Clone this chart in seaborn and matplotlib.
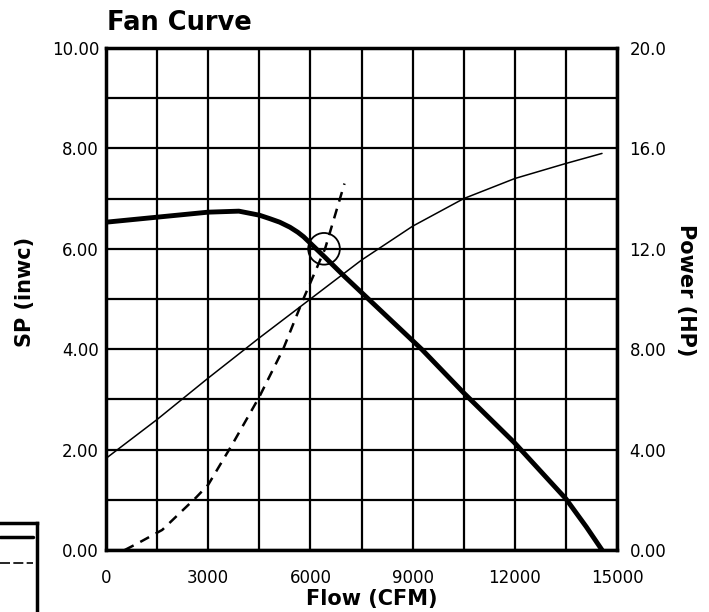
import numpy as np
import seaborn as sns
import matplotlib.pyplot as plt

# fan static pressure curve (left axis, inwc)
flow_sp = [0, 1500, 3000, 3900, 4500, 4810, 5100, 5400, 5630, 5800, 6000,
           6430, 7000, 7500, 8000, 8500, 9000, 9280, 10500, 12000, 13500,
           14100, 14560]
sp = [6.53, 6.63, 6.73, 6.75, 6.67, 6.6, 6.53, 6.43, 6.33, 6.24, 6.11,
      5.83, 5.45, 5.13, 4.81, 4.49, 4.17, 3.99, 3.13, 2.13, 1.02,
      0.46, 0.0]

# brake power curve (right axis, HP)
flow_pw = [0, 1500, 3000, 4500, 6000, 7500, 9000, 10500, 12000, 13500, 14560]
power = [3.65, 5.2, 6.85, 8.45, 10.0, 11.55, 12.9, 14.0, 14.8, 15.4, 15.8]

# system curve (left axis, dashed)
flow_sys = [550, 950, 1650, 2650, 3000, 3730, 4500, 5200, 5780, 6430, 7000]
sp_sys = [0.0, 0.14, 0.4, 1.05, 1.3, 2.13, 3.05, 4.0, 4.98, 6.0, 7.3]

# operating point
op_flow = [6400]
op_sp = [6.0]

x_ticks = [0, 3000, 6000, 9000, 12000, 15000]
y_ticks = [0, 2, 4, 6, 8, 10]
y_labels = ["0.00", "2.00", "4.00", "6.00", "8.00", "10.00"]
p_ticks = [0, 4, 8, 12, 16, 20]
p_labels = ["0.00", "4.00", "8.00", "12.0", "16.0", "20.0"]

sns.set_style("white")
plt.rcParams["font.family"] = ["DejaVu Sans"]
plt.rcParams["text.color"] = "black"
plt.rcParams["axes.labelcolor"] = "black"
plt.rcParams["axes.edgecolor"] = "black"
plt.rcParams["xtick.color"] = "black"
plt.rcParams["ytick.color"] = "black"

fig = plt.figure(figsize=(7.09, 6.12), dpi=100)
ax = fig.add_axes([106 / 709, 62 / 612, 511 / 709, 502 / 612])

ax.set_xlim(0, 15000)
ax.set_ylim(0, 10)
ax.set_xticks(x_ticks)
ax.set_xticks(np.arange(1500, 15000, 3000), minor=True)
ax.set_yticks(y_ticks)
ax.set_yticklabels(y_labels)
ax.set_yticks(np.arange(1, 10, 2), minor=True)
ax.grid(which="both", color="black", linewidth=1.6)
ax.set_axisbelow(True)
ax.tick_params(which="both", length=0, labelsize=12, labelcolor="black")
ax.tick_params(axis="x", pad=14)
ax.tick_params(axis="y", pad=5)
for s in ax.spines.values():
    s.set_color("black")
    s.set_linewidth(2.5)

sns.lineplot(x=flow_sp, y=sp, ax=ax, color="black", linewidth=3.5)
sns.lineplot(x=flow_sys, y=sp_sys, ax=ax, color="black", linewidth=1.8,
             linestyle=(0, (4, 3)))
ax.scatter(op_flow, op_sp, s=520, facecolors="none", edgecolors="black",
           linewidths=1.3, zorder=5)

ax2 = ax.twinx()
ax2.set_ylim(0, 20)
ax2.set_yticks(p_ticks)
ax2.set_yticklabels(p_labels)
ax2.tick_params(length=0, labelsize=12, pad=9, labelcolor="black")
ax2.grid(False)
for s in ax2.spines.values():
    s.set_visible(False)
sns.lineplot(x=flow_pw, y=power, ax=ax2, color="black", linewidth=1.1)
ax2.set_xlim(0, 15000)

fig.text(107 / 709, 1 - 23 / 612, "Fan Curve", fontsize=18.5,
         fontweight="bold", va="center", ha="left", color="black")
fig.text(25 / 709, 1 - 292 / 612, "SP (inwc)", fontsize=15,
         fontweight="bold", rotation=90, va="center", ha="center",
         color="black")
fig.text(686 / 709, 1 - 290 / 612, "Power (HP)", fontsize=15,
         fontweight="bold", rotation=-90, va="center", ha="center",
         color="black")
fig.text(372 / 709, 1 - 599 / 612, "Flow (CFM)", fontsize=15,
         fontweight="bold", va="center", ha="center", color="black")

# cut-off legend box at the lower left edge
leg = fig.add_axes([0, 0, 37 / 709, 89 / 612])
leg.set_xlim(0, 1)
leg.set_ylim(0, 1)
leg.set_xticks([])
leg.set_yticks([])
leg.patch.set_alpha(0)
leg.spines["left"].set_visible(False)
leg.spines["bottom"].set_visible(False)
for side in ["top", "right"]:
    leg.spines[side].set_linewidth(2.5)
    leg.spines[side].set_color("black")
leg.plot([0, 0.9], [0.84, 0.84], color="black", linewidth=2.5)
leg.plot([0, 0.9], [0.55, 0.55], color="black", linewidth=1.2,
         linestyle=(0, (6, 2)))

fig.savefig("out.png", dpi=100)
